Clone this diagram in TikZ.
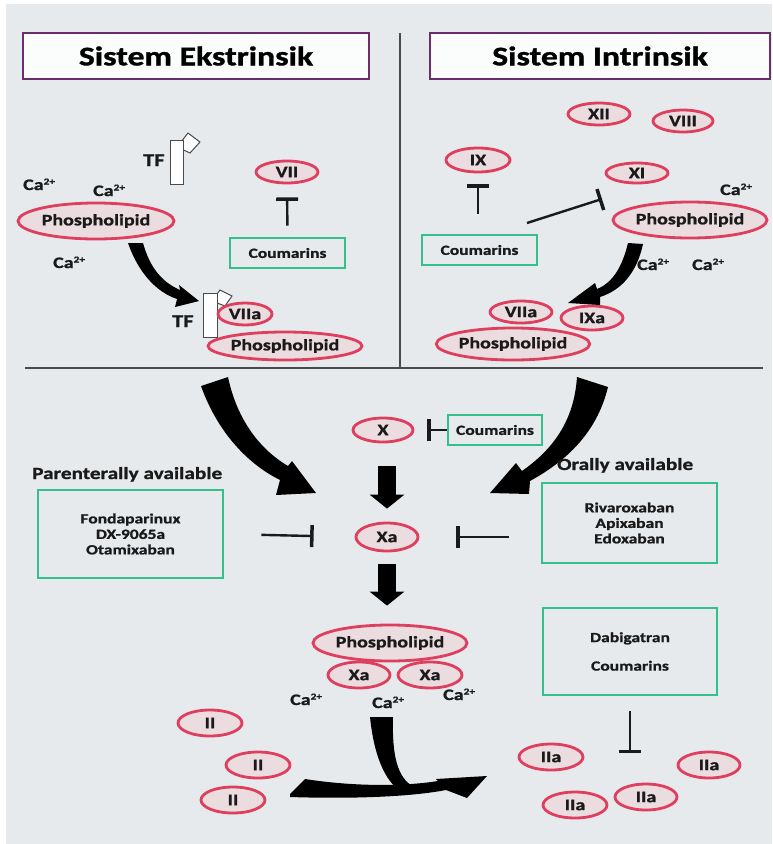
\documentclass[tikz,border=0pt]{standalone}
\usepackage{fontspec}
\usetikzlibrary{shapes.geometric,arrows.meta,calc}
\newfontfamily\cf[FakeStretch=1.25, BoldFeatures={FakeBold=1.2}]{Carlito}
\definecolor{bgcol}{HTML}{E7EAEC}
\definecolor{facred}{HTML}{DE3F5E}
\definecolor{facfill}{HTML}{EBDCDF}
\definecolor{drgreen}{HTML}{34C08A}
\definecolor{ttlpurple}{HTML}{6A2D6E}
\definecolor{txt}{HTML}{1A1A1A}
\definecolor{rule}{HTML}{4A4A4A}
\newcommand{\caion}{Ca\raisebox{5.5pt}{\fontsize{9}{9}\selectfont 2+}}
\tikzset{
  fac/.style={ellipse, draw=facred, line width=2.8pt, fill=facfill, inner sep=0pt,
    text=txt, font=\cf\bfseries\fontsize{16}{16}\selectfont},
  drug/.style={rectangle, draw=drgreen, line width=2.8pt, inner sep=0pt, align=center,
    text=txt, font=\cf\bfseries\fontsize{14}{15.5}\selectfont},
  titlebox/.style={rectangle, draw=ttlpurple, line width=2.4pt, fill=white!85!bgcol, inner sep=0pt,
    text=black, font=\cf\bfseries\fontsize{27}{27}\selectfont},
  lbl/.style={anchor=base west, inner sep=0pt, text=txt, font=\cf\bfseries\fontsize{16}{16}\selectfont},
  head/.style={anchor=base west, inner sep=0pt, text=txt, font=\cf\bfseries\fontsize{17}{17}\selectfont},
  inhib/.style={line width=2.4pt, draw=txt, -{Bar[width=22pt, line width=3.5pt]}},
  fat/.style={line width=18pt, draw=black, -{Triangle[width=34pt,length=14pt]}},
  tfbar/.style={draw=rule, line width=1pt, fill=white},
  sweep/.style={fill=black, draw=none}
}
\begin{document}
\begin{tikzpicture}[x=1pt,y=-1pt]
% page and background
\useasboundingbox (0,0) rectangle (772,844);
\fill[white] (0,0) rectangle (772,844);
\fill[bgcol] (6,4) rectangle (772,844);

% dividers between the two systems and the common pathway
\draw[rule, line width=1.5pt] (400,33) -- (400,368);
\draw[rule, line width=1.5pt] (25,368) -- (763,368);

% titles
\node[titlebox, minimum width=346pt, minimum height=46pt] (tE) at (196,56) {Sistem Ekstrinsik};
\node[titlebox, minimum width=340pt, minimum height=46pt] (tI) at (600,56) {Sistem Intrinsik};

% ---------- extrinsic system ----------
\node[fac, minimum width=156pt, minimum height=36pt] (plE) at (96,221) {Phospholipid};
\node[fac, minimum width=62pt, minimum height=22pt] (VII) at (287,172) {VII};
\node[drug, minimum width=115pt, minimum height=30pt] (coumE) at (287.5,253) {Coumarins};
\draw[inhib, shorten <=11pt, shorten >=13pt] (coumE.north) -- (VII.south);

\node[lbl] (caE1) at (23,190) {\caion};
\node[lbl] (caE2) at (93,196) {\caion};
\node[lbl] (caE3) at (53,268) {\caion};

% tissue factor (free)
\fill[tfbar] (177,147) -- (188,133) -- (200,142) -- (190,153) -- cycle;
\fill[tfbar] (170,140) rectangle (183,184);
\node[lbl, font=\cf\bfseries\fontsize{18}{18}\selectfont] (tf1) at (143,166) {TF};

% tissue factor bound to VIIa on phospholipid
\node[fac, minimum width=154pt, minimum height=28pt] (pl2E) at (285,346) {Phospholipid};
\fill[tfbar] (212,301) -- (220,290) -- (232,296) -- (225,306) -- cycle;
\fill[tfbar] (203,293) rectangle (217,337);
\node[fac, minimum width=54pt, minimum height=22pt] (VIIaE) at (245,314) {VIIa};
\node[lbl, font=\cf\bfseries\fontsize{18}{18}\selectfont] (tf2) at (172,327) {TF};

% curved arrow: phospholipid -> TF/VIIa complex
\fill[sweep] (128,243) -- (143,243) .. controls (150,268) and (162,282) .. (180,290)
  -- (179,285) -- (199,301) -- (175,307) -- (177,299)
  .. controls (156,292) and (138,272) .. (128,243) -- cycle;

% ---------- intrinsic system ----------
\node[fac, minimum width=62pt, minimum height=22pt] (XII) at (599,114) {XII};
\node[fac, minimum width=60pt, minimum height=22pt] (VIII) at (683,121) {VIII};
\node[fac, minimum width=64pt, minimum height=24pt] (IX) at (478,160) {IX};
\node[fac, minimum width=62pt, minimum height=20pt] (XI) at (637,173) {XI};
\node[fac, minimum width=154pt, minimum height=36pt] (plI) at (690,220) {Phospholipid};
\node[drug, minimum width=115pt, minimum height=30pt] (coumI) at (479.5,250) {Coumarins};
\draw[inhib, shorten <=20pt, shorten >=11pt] (coumI.north -| IX.south) -- (IX.south);
\coordinate (inI1) at (527,223);
\coordinate (inI2) at (602,199);
\draw[inhib] (inI1) -- (inI2);

\node[lbl] (caI1) at (720,195) {\caion};
\node[lbl] (caI2) at (637,270) {\caion};
\node[lbl] (caI3) at (692,270) {\caion};

\node[fac, minimum width=150pt, minimum height=32pt] (pl2I) at (513,344) {Phospholipid};
\node[fac, minimum width=62pt, minimum height=22pt] (VIIaI) at (521,312) {VIIa};
\node[fac, minimum width=62pt, minimum height=24pt] (IXa) at (592,318) {IXa};

% curved arrow: phospholipid -> IXa
\fill[sweep] (628,243) -- (643,244) .. controls (637,272) and (622,290) .. (600,297)
  -- (600,305) -- (568,303) -- (595,283) -- (597,289)
  .. controls (612,283) and (622,268) .. (628,243) -- cycle;

% ---------- common pathway ----------
% sweeping arrows from both systems into Xa
\fill[sweep] (201,386) -- (228,377) .. controls (236,415) and (256,447) .. (288,466)
  -- (292,461) -- (316,493) -- (276,495) -- (280,480)
  .. controls (244,462) and (216,428) .. (201,386) -- cycle;
\fill[sweep] (577,377) -- (608,387) .. controls (598,428) and (572,458) .. (530,481)
  -- (529,494) -- (490,493) -- (516,463) -- (522,471)
  .. controls (552,450) and (574,422) .. (577,377) -- cycle;

\node[fac, minimum width=60pt, minimum height=24pt] (X) at (383,430) {X};
\node[drug, minimum width=94pt, minimum height=30pt] (coumX) at (495,430) {Coumarins};
\draw[inhib, shorten >=13pt] (coumX.west) -- (X.east);

\node[fac, minimum width=62pt, minimum height=28pt] (Xa) at (387,537) {Xa};
\draw[fat, shorten <=23pt, shorten >=13pt] (X.south -| Xa.north) -- (Xa.north);

\node[head] (parT) at (32,479) {Parenterally available};
\node[drug, minimum width=185pt, minimum height=88pt] (parBox) at (130.5,534)
  {Fondaparinux\\DX-9065a\\Otamixaban};
\draw[inhib, shorten <=37pt, shorten >=41pt] (parBox.east) -- (Xa.west);

\node[head] (oralT) at (557,470) {Orally available};
\node[drug, minimum width=175pt, minimum height=80pt] (oralBox) at (629.5,523)
  {Rivaroxaban\\Apixaban\\Edoxaban};
\draw[inhib, shorten <=32pt, shorten >=37pt] (oralBox.west |- Xa.east) -- (Xa.east);

% prothrombinase complex
\node[fac, minimum width=154pt, minimum height=36pt] (plB) at (390,643) {Phospholipid};
\node[fac, minimum width=62pt, minimum height=26pt] (XaL) at (359,675) {Xa};
\node[fac, minimum width=64pt, minimum height=26pt] (XaR) at (430,675) {Xa};
\draw[fat, shorten <=12pt, shorten >=18pt] (Xa.south) -- (plB.north -| Xa.south);

\node[lbl] (caB1) at (290,705) {\caion};
\node[lbl] (caB2) at (372,708) {\caion};
\node[lbl] (caB3) at (443,700) {\caion};

% prothrombin
\node[fac, minimum width=64pt, minimum height=26pt] (II1) at (210,723) {II};
\node[fac, minimum width=64pt, minimum height=26pt] (II2) at (258,765) {II};
\node[fac, minimum width=64pt, minimum height=26pt] (II3) at (233,800) {II};

% conversion arrow II -> IIa
\fill[sweep] (370,717) -- (393,717) .. controls (392,755) and (397,778) .. (414,787)
  -- (402,793) .. controls (384,780) and (374,755) .. (370,717) -- cycle;
\fill[sweep] (290,794) -- (305,779) .. controls (350,786) and (400,787) .. (438,781)
  -- (436,779) -- (487,776) -- (467,798) -- (446,790)
  .. controls (410,797) and (350,799) .. (290,797) -- cycle;

% thrombin
\node[drug, minimum width=174pt, minimum height=87pt] (dabBox) at (630,651.5)
  {Dabigatran\\[13pt]Coumarins};
\coordinate (tIIa) at (630,753);
\draw[inhib, shorten <=15pt] (dabBox.south) -- (tIIa);
\node[fac, minimum width=64pt, minimum height=26pt] (IIa1) at (551,757) {IIa};
\node[fac, minimum width=62pt, minimum height=26pt] (IIa2) at (709,765) {IIa};
\node[fac, minimum width=64pt, minimum height=26pt] (IIa3) at (575,805) {IIa};
\node[fac, minimum width=62pt, minimum height=26pt] (IIa4) at (646,797) {IIa};
\end{tikzpicture}
\end{document}
